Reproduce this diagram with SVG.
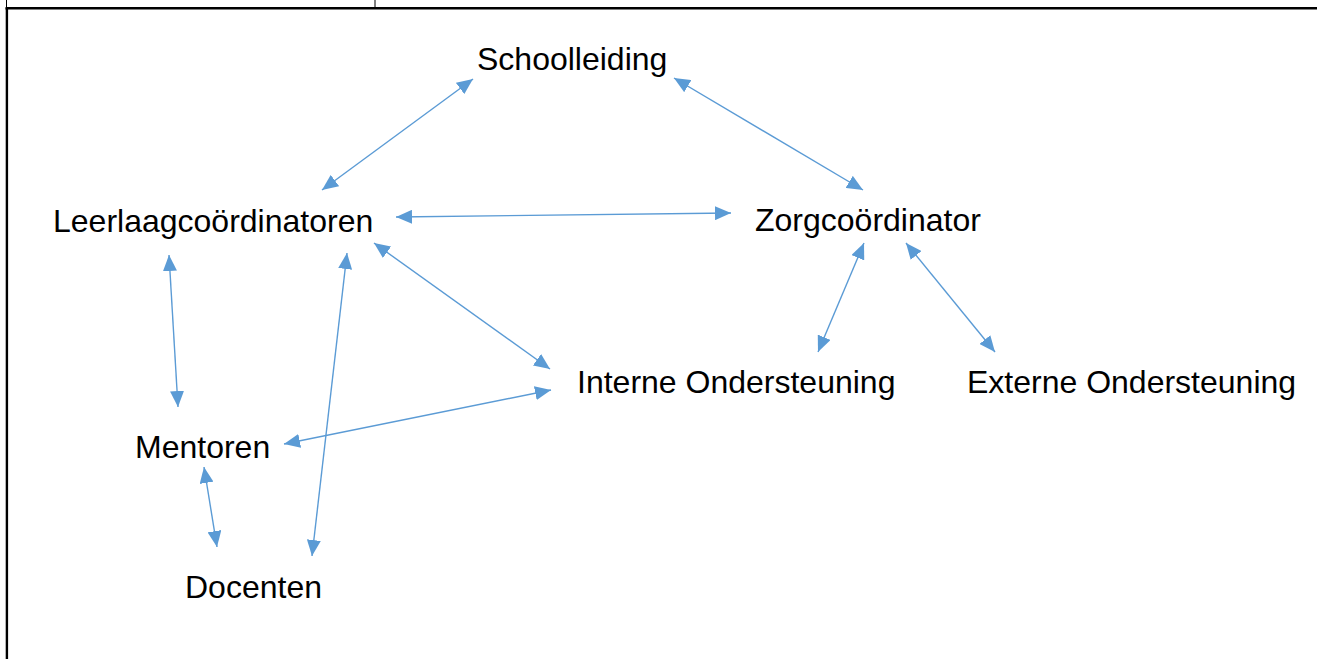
<svg xmlns="http://www.w3.org/2000/svg" width="1317" height="659" viewBox="0 0 1317 659">
<style>
.lbl{font-family:"Liberation Sans",Arial,sans-serif;font-size:32px;fill:#000}
.con{stroke:#5B9BD5;stroke-width:1.4;fill:none;marker-start:url(#ah);marker-end:url(#ah)}
.tbl{stroke:#000;fill:none}
</style>
<defs>
<marker id="ah" viewBox="0 0 16 14" refX="16" refY="7" markerWidth="16" markerHeight="14" markerUnits="userSpaceOnUse" orient="auto-start-reverse">
<path d="M0,0 L16,7 L0,14 z" fill="#5B9BD5"/>
</marker>
</defs>
<rect width="1317" height="659" fill="#fff"/>
<g id="table">
<line class="tbl" x1="6.5" y1="0" x2="6.5" y2="8" stroke-width="1"/>
<line class="tbl" x1="375" y1="0" x2="375" y2="8" stroke-width="1"/>
<line class="tbl" x1="5.5" y1="8.3" x2="1317" y2="8.3" stroke-width="2.6"/>
<line class="tbl" x1="6.9" y1="8" x2="6.9" y2="659" stroke-width="2.4"/>
</g>
<g id="connectors">
<line class="con" x1="322" y1="190" x2="473" y2="79"/>
<line class="con" x1="674" y1="78" x2="863" y2="190"/>
<line class="con" x1="396" y1="217" x2="731" y2="213"/>
<line class="con" x1="169" y1="255" x2="178" y2="407"/>
<line class="con" x1="347" y1="253" x2="312" y2="556"/>
<line class="con" x1="374" y1="243" x2="550" y2="369"/>
<line class="con" x1="284" y1="444" x2="551" y2="390"/>
<line class="con" x1="204" y1="467" x2="217" y2="547"/>
<line class="con" x1="864" y1="243" x2="818" y2="352"/>
<line class="con" x1="906" y1="243" x2="995" y2="352"/>
</g>
<g id="schoolleiding"><text class="lbl" x="477" y="70">Schoolleiding</text></g>
<g id="leerlaagcoordinatoren"><text class="lbl" x="53" y="232">Leerlaagcoördinatoren</text></g>
<g id="zorgcoordinator"><text class="lbl" x="755" y="231">Zorgcoördinator</text></g>
<g id="interne"><text class="lbl" x="577" y="393">Interne Ondersteuning</text></g>
<g id="externe"><text class="lbl" x="967" y="393">Externe Ondersteuning</text></g>
<g id="mentoren"><text class="lbl" x="135" y="458">Mentoren</text></g>
<g id="docenten"><text class="lbl" x="185" y="598">Docenten</text></g>
</svg>
